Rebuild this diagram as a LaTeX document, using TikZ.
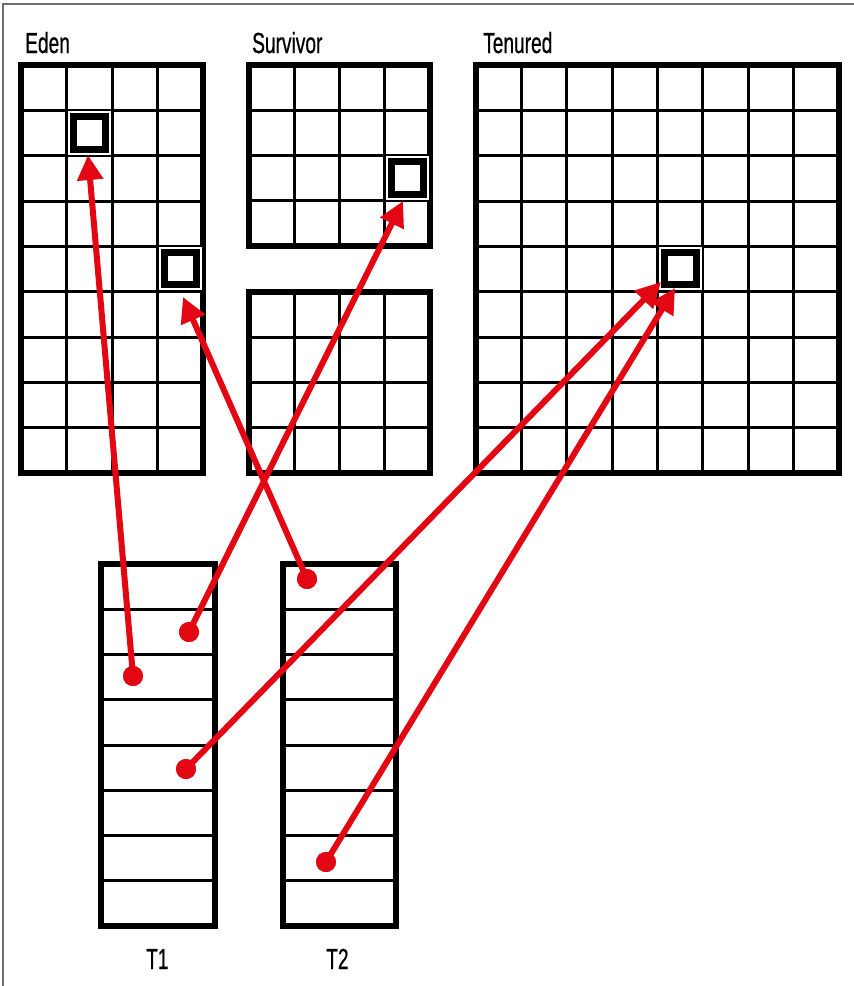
\documentclass[tikz,border=0pt]{standalone}
\usepackage{fontspec}
\setmainfont{Liberation Sans}
\newfontfamily\labfont[FakeBold=0.8]{Liberation Sans}
\usetikzlibrary{arrows.meta}
\definecolor{arrred}{RGB}{227,6,19}
\definecolor{framegray}{RGB}{110,110,110}
\newcommand\memgrid[7]{%
  \pgfmathtruncatemacro\ncm{#5-1}%
  \pgfmathtruncatemacro\nrm{#6-1}%
  \foreach \i in {1,...,\ncm}{\draw[gl] ({#1+\i*(#3-#1)/#5},#2) -- ({#1+\i*(#3-#1)/#5},#4);}
  \foreach \j in {1,...,\nrm}{\draw[gl] (#1,{#2+\j*(#4-#2)/#6}) -- (#3,{#2+\j*(#4-#2)/#6});}
  \pgfmathsetmacro\bw{#3-#1}\pgfmathsetmacro\bh{#4-#2}%
  \node[membox, minimum width=\bw pt, minimum height=\bh pt, anchor=north west] (#7) at (#1,#2) {};
}
\tikzset{
  gl/.style={line width=3pt, black},
  membox/.style={draw=black, line width=6pt, inner sep=0pt, outer sep=0pt, line join=miter},
  hl/.style={draw=black, line width=7pt, fill=white, minimum size=32.5pt, inner sep=0pt,
    preaction={draw=white, line width=11pt}},
  dot/.style={circle, fill=arrred, minimum size=20pt, inner sep=0pt},
  ref/.style={draw=arrred, line width=6pt, -{Triangle[length=25pt, width=25pt]}},
  lab/.style={anchor=base west, inner sep=0pt, font=\labfont\fontsize{29}{29}\selectfont},
  frame/.style={draw=framegray, line width=1.5pt}
}
\newcommand\cond[1]{\scalebox{0.66}[1]{#1}}
\begin{document}
\begin{tikzpicture}[x=1pt, y=-1pt]
\useasboundingbox (0,0) rectangle (854,986);
\draw[frame] (3,986) -- (3,4) -- (854,4);
% labels
\node[lab] (leden) at (25,53) {\cond{Eden}};
\node[lab] (lsurv) at (252,53) {\cond{Survivor}};
\node[lab] (lten) at (483,53) {\cond{Tenured}};
\node[lab] (lt1) at (146,969) {\cond{T1}};
\node[lab] (lt2) at (326,969) {\cond{T2}};
% grids
\memgrid{21}{65}{203}{473}{4}{9}{eden}
\memgrid{249}{65}{430}{246}{4}{4}{surva}
\memgrid{249}{292}{430}{473}{4}{4}{survb}
\memgrid{476}{65}{839}{473}{8}{9}{tenured}
\memgrid{101}{564}{215}{926}{1}{8}{tone}
\memgrid{283}{564}{396}{926}{1}{8}{ttwo}
% highlighted objects
\node[hl] (e1) at (89.5,133) {};
\node[hl] (e2) at (180.5,268.5) {};
\node[hl] (s1) at (407.5,178) {};
\node[hl] (t1) at (680.3,268.5) {};
% arrow targets
\coordinate (ae1) at (88,155);
\coordinate (ae2) at (183,297);
\coordinate (as1) at (403,201);
\coordinate (at1) at (661,282);
\coordinate (at2) at (675,288);
% reference dots
\node[dot] (d1) at (133,676) {};
\node[dot] (d2) at (189,632) {};
\node[dot] (d3) at (186,769) {};
\node[dot] (d4) at (307,579) {};
\node[dot] (d5) at (326,862) {};
% references
\draw[ref] (d1.center) -- (ae1);
\draw[ref] (d2.center) -- (as1);
\draw[ref] (d3.center) -- (at1);
\draw[ref] (d4.center) -- (ae2);
\draw[ref] (d5.center) -- (at2);
\node[dot] at (d1) {};
\node[dot] at (d2) {};
\node[dot] at (d3) {};
\node[dot] at (d4) {};
\node[dot] at (d5) {};
\end{tikzpicture}
\end{document}
